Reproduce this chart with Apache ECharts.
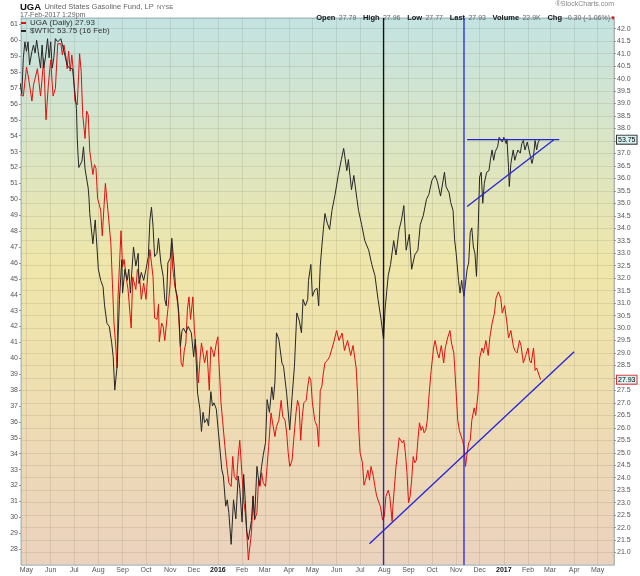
<!DOCTYPE html>
<html><head><meta charset="utf-8">
<script src="https://cdn.jsdelivr.net/npm/echarts@6/dist/echarts.min.js"></script>
<style>html,body{margin:0;padding:0;background:#fff}#c{width:640px;height:576px}</style>
</head><body><div id="c"></div>
<script>
// ---------- DATA ----------
const wticDates = ['2015-04-23','2015-04-25','2015-04-27','2015-04-29','2015-05-01','2015-05-03','2015-05-05','2015-05-08','2015-05-10','2015-05-12','2015-05-14','2015-05-16','2015-05-19','2015-05-21','2015-05-23','2015-05-25','2015-05-28','2015-05-30','2015-06-01','2015-06-03','2015-06-05','2015-06-07','2015-06-10','2015-06-14','2015-06-18','2015-06-22','2015-06-25','2015-06-29','2015-07-04','2015-07-05','2015-07-06','2015-07-07','2015-07-11','2015-07-13','2015-07-15','2015-07-19','2015-07-20','2015-07-21','2015-07-23','2015-07-25','2015-07-28','2015-08-01','2015-08-04','2015-08-07','2015-08-09','2015-08-12','2015-08-15','2015-08-18','2015-08-20','2015-08-22','2015-08-25','2015-08-28','2015-08-31','2015-09-01','2015-09-04','2015-09-07','2015-09-09','2015-09-11','2015-09-15','2015-09-18','2015-09-21','2015-09-22','2015-09-25','2015-09-28','2015-10-01','2015-10-04','2015-10-06','2015-10-08','2015-10-10','2015-10-12','2015-10-15','2015-10-17','2015-10-20','2015-10-23','2015-10-25','2015-10-27','2015-10-29','2015-11-01','2015-11-03','2015-11-06','2015-11-08','2015-11-10','2015-11-12','2015-11-14','2015-11-16','2015-11-18','2015-11-21','2015-11-24','2015-11-28','2015-12-01','2015-12-03','2015-12-06','2015-12-09','2015-12-11','2015-12-13','2015-12-15','2015-12-18','2015-12-20','2015-12-23','2015-12-25','2015-12-27','2015-12-30','2016-01-04','2016-01-06','2016-01-08','2016-01-11','2016-01-13','2016-01-15','2016-01-18','2016-01-21','2016-01-24','2016-01-27','2016-01-29','2016-02-01','2016-02-03','2016-02-05','2016-02-07','2016-02-09','2016-02-13','2016-02-15','2016-02-17','2016-02-20','2016-02-23','2016-02-26','2016-02-28','2016-03-02','2016-03-04','2016-03-07','2016-03-10','2016-03-12','2016-03-14','2016-03-16','2016-03-19','2016-03-23','2016-03-25','2016-03-29','2016-04-02','2016-04-05','2016-04-08','2016-04-11','2016-04-14','2016-04-17','2016-04-19','2016-04-22','2016-04-25','2016-04-26','2016-04-29','2016-05-01','2016-05-04','2016-05-07','2016-05-09','2016-05-11','2016-05-13','2016-05-15','2016-05-17','2016-05-20','2016-05-23','2016-05-26','2016-05-30','2016-06-03','2016-06-07','2016-06-10','2016-06-14','2016-06-16','2016-06-20','2016-06-23','2016-06-27','2016-06-29','2016-07-03','2016-07-07','2016-07-12','2016-07-16','2016-07-20','2016-07-24','2016-07-28','2016-07-31','2016-08-02','2016-08-06','2016-08-09','2016-08-13','2016-08-16','2016-08-20','2016-08-23','2016-08-26','2016-08-29','2016-09-02','2016-09-05','2016-09-09','2016-09-13','2016-09-16','2016-09-20','2016-09-24','2016-09-27','2016-10-01','2016-10-05','2016-10-08','2016-10-12','2016-10-17','2016-10-19','2016-10-23','2016-10-25','2016-10-28','2016-10-30','2016-11-01','2016-11-04','2016-11-06','2016-11-08','2016-11-09','2016-11-11','2016-11-15','2016-11-17','2016-11-19','2016-11-21','2016-11-23','2016-11-25','2016-11-27','2016-11-29','2016-12-01','2016-12-03','2016-12-05','2016-12-07','2016-12-10','2016-12-13','2016-12-15','2016-12-17','2016-12-19','2016-12-21','2016-12-24','2016-12-26','2016-12-28','2016-12-30','2017-01-01','2017-01-04','2017-01-05','2017-01-07','2017-01-08','2017-01-10','2017-01-13','2017-01-15','2017-01-17','2017-01-19','2017-01-22','2017-01-24','2017-01-26','2017-01-28','2017-01-31','2017-02-02','2017-02-04','2017-02-06','2017-02-08','2017-02-10','2017-02-12','2017-02-14','2017-02-16'];
const wticValues = [57.3,56.6,58.9,59.9,59.3,59.9,58.45,59.3,59.7,59.2,60.0,59.3,58.25,59.7,58.25,58.8,60.1,58.9,59.9,58.25,58.9,60.1,59.9,60.1,59.3,58.45,58.25,58.2,55.7,53.8,52.8,52.0,52.4,53.3,51.9,50.7,50.1,49.1,49.0,47.2,48.7,45.6,44.9,44.5,43.3,42.2,42.0,41.0,40.1,38.0,39.5,43.7,46.2,44.1,45.6,44.9,45.6,44.1,47.0,45.8,46.6,44.7,45.4,44.9,45.6,46.4,48.7,49.5,48.3,46.4,46.6,47.55,46.0,45.15,43.7,43.3,46.0,46.3,47.55,45.8,44.3,43.9,42.85,40.75,41.7,41.9,41.6,42.0,41.6,40.1,41.2,37.8,36.8,35.4,36.6,35.95,36.2,35.75,37.9,37.0,37.2,36.8,34.1,33.0,32.6,30.7,31.1,30.3,28.3,31.1,29.9,32.6,31.8,29.7,32.7,31.1,29.1,28.6,29.8,31.35,29.9,33.2,32.0,33.2,33.9,34.7,37.4,36.6,38.2,37.4,38.5,41.6,41.2,39.7,39.5,37.8,35.5,37.6,39.5,42.85,42.4,41.6,43.7,43.3,43.7,44.9,45.9,43.9,44.3,44.4,43.3,45.8,47.0,48.1,49.1,48.5,48.1,49.3,50.3,51.5,52.5,53.2,51.8,52.5,50.6,51.5,50.0,49.3,48.4,47.4,46.8,45.9,45.2,43.7,42.4,41.2,43.1,45.2,45.9,47.4,46.5,48.1,48.7,49.6,46.8,47.8,45.6,46.5,46.8,48.4,49.0,50.0,50.3,51.2,51.5,51.1,50.2,51.7,50.8,50.4,49.8,49.3,47.45,46.6,44.9,44.1,44.9,44.5,43.9,45.6,46.0,47.9,48.2,47.0,46.6,45.15,47.9,51.4,51.7,49.75,51.0,51.7,51.8,52.55,53.1,52.45,53.0,53.3,53.9,53.8,53.6,53.9,53.5,53.8,52.0,50.8,52.25,53.1,52.45,52.8,53.1,52.9,53.5,53.7,53.1,53.6,53.7,52.7,52.25,52.7,53.7,53.1,53.6,53.75];

const ugaDates = ['2015-04-23','2015-04-27','2015-05-01','2015-05-03','2015-05-08','2015-05-10','2015-05-12','2015-05-15','2015-05-19','2015-05-21','2015-05-23','2015-05-26','2015-05-29','2015-06-01','2015-06-04','2015-06-07','2015-06-10','2015-06-14','2015-06-16','2015-06-18','2015-06-21','2015-06-22','2015-06-24','2015-06-26','2015-06-28','2015-06-30','2015-07-02','2015-07-05','2015-07-08','2015-07-10','2015-07-12','2015-07-15','2015-07-17','2015-07-19','2015-07-21','2015-07-25','2015-07-27','2015-07-29','2015-07-31','2015-08-04','2015-08-06','2015-08-10','2015-08-14','2015-08-17','2015-08-19','2015-08-21','2015-08-23','2015-08-25','2015-08-26','2015-08-30','2015-09-01','2015-09-03','2015-09-06','2015-09-08','2015-09-12','2015-09-14','2015-09-18','2015-09-20','2015-09-23','2015-09-25','2015-09-28','2015-10-01','2015-10-04','2015-10-06','2015-10-08','2015-10-10','2015-10-12','2015-10-15','2015-10-17','2015-10-18','2015-10-21','2015-10-23','2015-10-25','2015-10-27','2015-10-29','2015-11-01','2015-11-03','2015-11-04','2015-11-07','2015-11-08','2015-11-11','2015-11-13','2015-11-15','2015-11-17','2015-11-19','2015-11-21','2015-11-23','2015-11-25','2015-11-27','2015-11-30','2015-12-02','2015-12-05','2015-12-07','2015-12-09','2015-12-11','2015-12-13','2015-12-15','2015-12-18','2015-12-21','2015-12-23','2015-12-25','2015-12-27','2015-12-30','2016-01-01','2016-01-02','2016-01-05','2016-01-07','2016-01-10','2016-01-12','2016-01-15','2016-01-18','2016-01-20','2016-01-22','2016-01-25','2016-01-27','2016-01-29','2016-02-01','2016-02-03','2016-02-05','2016-02-07','2016-02-09','2016-02-11','2016-02-13','2016-02-15','2016-02-17','2016-02-20','2016-02-22','2016-02-24','2016-02-26','2016-02-28','2016-03-02','2016-03-04','2016-03-06','2016-03-09','2016-03-11','2016-03-14','2016-03-16','2016-03-19','2016-03-22','2016-03-24','2016-03-27','2016-03-29','2016-03-31','2016-04-02','2016-04-05','2016-04-07','2016-04-10','2016-04-12','2016-04-14','2016-04-16','2016-04-18','2016-04-20','2016-04-23','2016-04-25','2016-04-27','2016-04-29','2016-05-01','2016-05-04','2016-05-07','2016-05-09','2016-05-11','2016-05-13','2016-05-15','2016-05-17','2016-05-20','2016-05-23','2016-05-28','2016-06-01','2016-06-04','2016-06-08','2016-06-11','2016-06-15','2016-06-19','2016-06-22','2016-06-26','2016-06-28','2016-06-29','2016-07-01','2016-07-04','2016-07-06','2016-07-08','2016-07-11','2016-07-13','2016-07-15','2016-07-18','2016-07-20','2016-07-22','2016-07-24','2016-07-27','2016-07-29','2016-07-30','2016-08-01','2016-08-03','2016-08-06','2016-08-08','2016-08-11','2016-08-12','2016-08-14','2016-08-16','2016-08-18','2016-08-20','2016-08-22','2016-08-24','2016-08-26','2016-08-28','2016-08-30','2016-09-01','2016-09-03','2016-09-05','2016-09-07','2016-09-09','2016-09-11','2016-09-13','2016-09-15','2016-09-17','2016-09-19','2016-09-21','2016-09-23','2016-09-25','2016-09-27','2016-09-30','2016-10-03','2016-10-05','2016-10-08','2016-10-10','2016-10-13','2016-10-16','2016-10-18','2016-10-21','2016-10-24','2016-10-26','2016-10-29','2016-11-01','2016-11-03','2016-11-05','2016-11-09','2016-11-11','2016-11-13','2016-11-15','2016-11-17','2016-11-19','2016-11-21','2016-11-24','2016-11-26','2016-11-29','2016-12-01','2016-12-04','2016-12-06','2016-12-09','2016-12-12','2016-12-14','2016-12-17','2016-12-20','2016-12-22','2016-12-25','2016-12-28','2016-12-30','2017-01-02','2017-01-05','2017-01-07','2017-01-10','2017-01-13','2017-01-15','2017-01-18','2017-01-21','2017-01-23','2017-01-26','2017-01-29','2017-02-01','2017-02-03','2017-02-05','2017-02-08','2017-02-10','2017-02-12','2017-02-17'];
const ugaValues = [39.35,39.3,40.45,40.15,39.1,39.75,40.0,40.4,39.3,40.0,40.8,38.35,39.75,40.75,39.3,39.6,41.4,41.4,40.95,41.35,40.75,40.4,41.1,40.3,40.95,40.3,39.1,38.95,41.0,40.3,38.55,37.6,38.7,38.55,37.1,36.15,36.55,36.4,35.2,34.73,33.7,35.8,34.45,33.4,31.8,30.2,29.4,28.4,31.1,33.9,32.45,32.75,31.95,31.55,30.0,32.05,31.55,32.35,31.95,31.15,31.8,31.15,32.45,33.15,32.6,32.05,30.4,30.35,30.95,29.45,30.2,30.05,29.5,29.5,30.75,31.8,33.4,32.45,31.65,31.55,30.85,29.8,28.6,28.45,29.1,29.4,30.75,31.25,30.35,31.25,29.9,28.85,27.8,28.7,29.4,29.0,28.6,29.1,27.5,29.25,29.1,28.85,29.4,29.65,28.85,27.0,26.3,25.25,24.6,23.8,23.65,24.85,24.05,23.9,24.85,25.5,24.05,23.1,22.6,21.8,20.7,20.75,21.8,23.25,22.3,22.6,23.9,23.65,24.2,23.8,23.65,24.45,25.25,26.6,26.2,25.65,26.05,26.3,27.1,26.45,26.3,25.8,25.0,24.45,24.7,25.5,26.6,27.1,26.85,25.5,26.45,27.0,27.1,27.65,28.05,27.9,27.0,26.3,26.05,25.25,27.5,27.65,28.2,28.6,28.7,28.85,29.4,29.9,29.5,29.8,29.1,29.5,28.9,29.3,28.4,27.2,26.1,25.0,24.6,23.7,23.9,24.3,23.9,24.45,24.05,23.65,23.3,23.1,22.85,22.45,22.3,22.45,23.25,23.5,23.25,22.25,22.85,23.65,24.45,25.0,25.6,25.65,25.4,25.5,25.0,24.2,23.0,23.25,23.9,24.85,24.6,24.7,25.5,26.2,25.9,26.05,25.8,25.9,26.3,27.2,28.3,29.2,29.5,29.0,28.8,29.3,28.6,29.2,29.6,29.9,29.4,29.0,27.4,26.3,25.9,25.5,25.25,24.45,25.0,25.4,25.5,26.3,26.8,26.5,27.4,28.8,29.2,29.0,29.5,28.9,29.6,30.2,30.6,31.2,31.45,31.2,30.6,30.9,30.2,29.6,29.9,29.3,29.1,29.0,29.5,29.3,28.6,28.9,29.2,28.7,28.6,29.2,28.3,28.4,27.93];

// axis tick settings
const leftAxisMin = 27, leftAxisMax = 61.4;     // $WTIC scale (left)
const rightAxisMin = 20.5, rightAxisMax = 42.43; // UGA scale (right)
const xStart = '2015-04-24', xEnd = '2017-05-22';
const monthNames = ['Jan','Feb','Mar','Apr','May','Jun','Jul','Aug','Sep','Oct','Nov','Dec'];

// annotations drawn on the chart
const vline1Date = '2016-07-31', vline1Split = 41.2;
const vline2Date = '2016-11-11';
const wticTopLineDates = ['2016-11-15','2017-03-13'], wticTopLineValues = [53.75, 53.75];
const wticRiseLineDates = ['2016-11-15','2017-03-06'], wticRiseLineValues = [49.55, 53.75];
const ugaTrendDates = ['2016-07-13','2017-04-01'], ugaTrendValues = [21.35, 29.05];

// header values
const quote = {open:'27.79', high:'27.96', low:'27.77', last:'27.93', volume:'22.9K', chg:'-0.30 (-1.06%)'};

// ---------- CHART ----------
const zip = (d, v) => d.map((x, i) => [x, v[i]]);
const lastUga = ugaValues[ugaValues.length - 1];
const lastWtic = wticValues[wticValues.length - 1];
const ugaName = 'UGA (Daily) ' + lastUga.toFixed(2);
const wticName = '$WTIC ' + lastWtic.toFixed(2) + ' (16 Feb)';
const BLUE = '#2424dc';
const FONT = 'Liberation Sans, Arial, sans-serif';
const gridColor = 'rgba(110,110,80,0.15)';
const DAY = 86400000;

const chart = echarts.init(document.getElementById('c'), null, {renderer: 'canvas'});

function tag(value, border) {
  return {
    silent: true, symbol: 'none',
    lineStyle: {color: 'rgba(0,0,0,0)', width: 0},
    label: {show: true, position: 'end', distance: 3, formatter: value.toFixed(2),
      fontSize: 7, fontFamily: FONT, color: '#000', backgroundColor: '#d9f2f2',
      borderColor: border, borderWidth: 1, padding: [1, 1, 0, 1], opacity: 1},
    emphasis: {disabled: true},
    data: [{yAxis: value}]
  };
}

const annot = (data, yIdx, color, width) => ({
  type: 'line', yAxisIndex: yIdx, data: data, symbol: 'none', silent: true,
  lineStyle: {color: color, width: width}, z: 4
});

chart.setOption({
  animation: false,
  textStyle: {fontFamily: FONT},
  grid: {left: 21, right: 26, top: 18, bottom: 11, show: true, borderColor: '#9fbcc4', borderWidth: 1,
    backgroundColor: new echarts.graphic.LinearGradient(0, 0, 0, 1, [
      {offset: 0, color: '#c3e3e3'},
      {offset: 0.22, color: '#d9e5c6'},
      {offset: 0.45, color: '#efe6aa'},
      {offset: 0.62, color: '#efe1ae'},
      {offset: 0.8, color: '#edd9b6'},
      {offset: 1, color: '#ebd2be'}
    ])},
  legend: {
    data: [ugaName, wticName], orient: 'vertical', left: 21, top: 19, padding: 0,
    itemGap: 0, itemWidth: 5, itemHeight: 2, icon: 'rect', selectedMode: false,
    textStyle: {fontSize: 8, color: '#333', lineHeight: 7, padding: [0, 0, 0, -1]}
  },
  xAxis: {
    type: 'time', min: xStart, max: xEnd,
    splitNumber: 25, minInterval: 28 * DAY, maxInterval: 31 * DAY,
    axisLine: {show: false}, axisTick: {show: false},
    axisLabel: {
      fontSize: 7, color: '#555', margin: 2, interval: 0, hideOverlap: false,
      showMinLabel: false, showMaxLabel: false,
      formatter: function (v) {
        const d = new Date(v);
        return d.getMonth() === 0 ? '{y|' + d.getFullYear() + '}' : monthNames[d.getMonth()];
      },
      rich: {y: {fontWeight: 'bold', color: '#111', fontSize: 7, fontFamily: FONT}}
    },
    splitLine: {show: true, lineStyle: {color: gridColor, width: 1}}
  },
  yAxis: [
    {type: 'value', position: 'left', min: leftAxisMin, max: leftAxisMax, interval: 1,
      axisLine: {show: false}, axisTick: {show: true, length: 2, lineStyle: {color: '#999'}},
      axisLabel: {fontSize: 7, color: '#555', margin: 3, showMinLabel: false, showMaxLabel: false},
      splitLine: {show: false}},
    {type: 'value', position: 'right', min: rightAxisMin, max: rightAxisMax, interval: 0.5,
      axisLine: {show: true, lineStyle: {color: '#b0b0b0', type: 'dotted'}},
      axisTick: {show: true, length: 2, lineStyle: {color: '#999'}},
      axisLabel: {fontSize: 7, color: '#555', margin: 3, showMinLabel: false, showMaxLabel: false,
        formatter: v => v.toFixed(1)},
      splitLine: {show: true, lineStyle: {color: gridColor, width: 1}}}
  ],
  series: [
    {name: ugaName, type: 'line', yAxisIndex: 1, data: zip(ugaDates, ugaValues), showSymbol: false,
      symbol: 'none', lineStyle: {color: '#e01010', width: 1}, itemStyle: {color: '#e01010'}, z: 3,
      markLine: tag(lastUga, '#e03030')},
    {name: wticName, type: 'line', yAxisIndex: 0, data: zip(wticDates, wticValues), showSymbol: false,
      symbol: 'none', lineStyle: {color: '#262626', width: 1}, itemStyle: {color: '#262626'}, z: 3,
      markLine: tag(lastWtic, '#333')},
    annot([[vline1Date, leftAxisMax], [vline1Date, vline1Split]], 0, '#111', 1.3),
    annot([[vline1Date, vline1Split], [vline1Date, leftAxisMin]], 0, BLUE, 1.3),
    annot([[vline2Date, leftAxisMax], [vline2Date, leftAxisMin]], 0, BLUE, 1.3),
    annot(zip(wticTopLineDates, wticTopLineValues), 0, BLUE, 1.3),
    annot(zip(wticRiseLineDates, wticRiseLineValues), 0, BLUE, 1.3),
    annot(zip(ugaTrendDates, ugaTrendValues), 1, BLUE, 1.3)
  ],
  graphic: [
    {type: 'text', left: 20, top: 1, style: {
      text: '{b|UGA} {n|United States Gasoline Fund, LP} {s|NYSE}',
      rich: {b: {fontSize: 9.5, fontWeight: 'bold', fill: '#111', fontFamily: FONT},
             n: {fontSize: 7.5, fill: '#666', fontFamily: FONT},
             s: {fontSize: 6, fill: '#666', fontFamily: FONT}}}},
    {type: 'text', left: 20, top: 12, style: {text: '17-Feb-2017 1:29pm', fontSize: 7, fill: '#666', fontFamily: FONT}},
    {type: 'text', right: 26, top: 1, style: {text: '\u00aeStockCharts.com', fontSize: 7, fill: '#888', fontFamily: FONT}},
    {type: 'text', right: 24, top: 12, style: {
      text: '{k|Open} {v|' + quote.open + '}  {k|High} {v|' + quote.high + '}  {k|Low} {v|' + quote.low +
            '}  {k|Last} {v|' + quote.last + '}  {k|Volume} {v|' + quote.volume + '}  {k|Chg} {v|' + quote.chg + '}{r|\u25bc}',
      rich: {k: {fontSize: 7.5, fontWeight: 'bold', fill: '#111', fontFamily: FONT},
             v: {fontSize: 7, fill: '#666', fontFamily: FONT},
             r: {fontSize: 6, fill: '#d00', fontFamily: FONT}}}}
  ]
});
</script></body></html>
